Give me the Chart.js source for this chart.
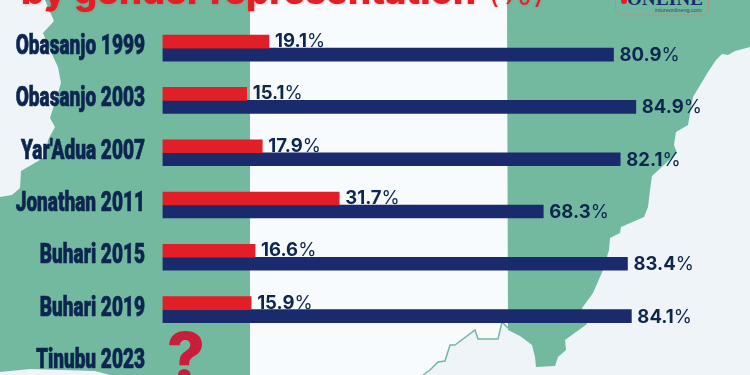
<!DOCTYPE html>
<html>
<head>
<meta charset="utf-8">
<script src="https://cdn.jsdelivr.net/npm/chart.js@4"></script>
<style>
  html, body { margin: 0; padding: 0; background: #eef4f7; }
  #wrap { position: relative; width: 750px; height: 375px; overflow: hidden; }
  #bg { position: absolute; left: 0; top: 0; }
  /* canvas is taller than the page, the title and last row get cropped like the original */
  #chart { position: absolute; left: 0; top: -40px; }
</style>
</head>
<body>
<div id="wrap">
  <svg id="bg" width="750" height="375" viewBox="0 0 750 375">
    <rect width="750" height="375" fill="#eef4f7"/>
    <polygon fill="#f7fbfd" points="250,0 508,0 508,328 502,322 498,339 478,339 475,330 455,345 450,345 445,361 438,362 430,370 423,375 250,375"/>
    <polygon fill="#72b9a0" points="45,0 250,0 250,375 110,375 95,371 30,369 0,372 0,197 12,195 20,188 21,171 45,157 48,140 55,127 50,118 61,83 58,67 50,50 43,33 54,21"/>
    <polygon fill="#72b9a0" points="507,0 750,0 750,47 735,51 728,55 722,54 716,60 708,72 693,97 688,125 676,132 674,145 677,153 652,176 650,190 648,207 644,217 621,227 620,233 610,238 609,250 603,270 593,293 582,308 587,324 565,340 566,350 558,357 555,366 536,367 535,357 532,345 520,336 508,330"/>
    <polyline fill="none" stroke="#72b9a0" stroke-width="1.5" points="423,375 430,370 438,362 445,361 450,345 455,345 475,330 478,339 498,339 502,322 508,328"/>
    <rect x="615.5" y="-6" width="93" height="21" rx="5" fill="none" stroke="#a89a80" stroke-width="1"/>
    <circle cx="624" cy="1" r="3" fill="#e21f26"/>
    <text x="627" y="5" font-family="Liberation Serif" font-weight="700" font-size="19" fill="#1a2b6d" textLength="76">ONLINE</text>
    <text x="655" y="12" font-family="Liberation Sans" font-size="5.5" fill="#33475f">intureonlineng.com</text>
  </svg>
  <canvas id="chart" width="750" height="440"></canvas>
</div>
<script>
const categories = ["Obasanjo 1999", "Obasanjo 2003", "Yar'Adua 2007", "Jonathan 2011", "Buhari 2015", "Buhari 2019", "Tinubu 2023"];
const femaleShare = [19.1, 15.1, 17.9, 31.7, 16.6, 15.9, null];
const maleShare = [80.9, 84.9, 82.1, 68.3, 83.4, 84.1, null];
const titleText = "by gender representation";
const titleUnit = "(%)";
const unknownMark = "?";

const red = "#e21f26";
const blue = "#1a2b6d";
const navy = "#0d2650";

// title, squeezed tick labels, value labels and the question mark.
// no condensed heavy font is installed so the tick labels get a horizontal scale
const textPlugin = {
  id: "textPlugin",
  afterDatasetsDraw(chart) {
    const ctx = chart.ctx;
    const yScale = chart.scales.y;
    ctx.save();
    ctx.textBaseline = "alphabetic";
    ctx.textAlign = "left";

    ctx.save();
    ctx.shadowColor = "rgba(226,31,38,0.35)";
    ctx.shadowBlur = 3;
    ctx.fillStyle = red;
    ctx.font = "800 36.3px Inter";
    ctx.fillText(titleText, 21, 44);
    ctx.font = "300 36px Inter";
    ctx.fillText(titleUnit, 487, 44);
    ctx.restore();

    categories.forEach((label, j) => {
      ctx.save();
      ctx.translate(145, yScale.getPixelForTick(j) - 1);
      ctx.scale(0.68, 1);
      ctx.textAlign = "right";
      ctx.textBaseline = "middle";
      ctx.fillStyle = navy;
      ctx.strokeStyle = navy;
      ctx.lineWidth = 0.7;
      ctx.font = "900 28px Roboto";
      ctx.fillText(label, 0, 0);
      ctx.strokeText(label, 0, 0);
      ctx.restore();
    });

    chart.data.datasets.forEach((ds, i) => {
      const meta = chart.getDatasetMeta(i);
      meta.data.forEach((bar, j) => {
        if (ds.data[j] == null) return;
        const num = ds.data[j].toFixed(1);
        const x = bar.x + 6;
        const y = bar.y + (i === 0 ? 5.5 : 6.5);
        ctx.fillStyle = navy;
        ctx.font = "700 18.5px Inter";
        ctx.fillText(num, x, y);
        const w = ctx.measureText(num).width;
        ctx.font = "400 18.5px Inter";
        ctx.fillText("%", x + w, y);
      });
    });

    ctx.fillStyle = "#c81e3a";
    ctx.font = "800 66px Inter";
    ctx.textAlign = "center";
    ctx.fillText(unknownMark, chart.scales.x.getPixelForValue(4.2), yScale.getPixelForTick(categories.length - 1) + 18);
    ctx.restore();
  },
};

new Chart(document.getElementById("chart"), {
  type: "bar",
  data: {
    labels: categories,
    datasets: [
      { data: femaleShare, backgroundColor: red, barThickness: 13 },
      { data: maleShare, backgroundColor: blue, barThickness: 13 },
    ],
  },
  options: {
    indexAxis: "y",
    responsive: false,
    animation: false,
    layout: { padding: { top: 62, bottom: 12, right: 30 } },
    plugins: {
      legend: { display: false },
      tooltip: { enabled: false },
    },
    scales: {
      x: { display: false, min: 0, max: 100 },
      y: {
        afterFit(scale) { scale.width = 162.5; },
        border: { display: false },
        grid: { display: false, drawTicks: false },
        ticks: { display: false, autoSkip: false },
      },
    },
  },
  plugins: [textPlugin],
});
</script>
</body>
</html>
